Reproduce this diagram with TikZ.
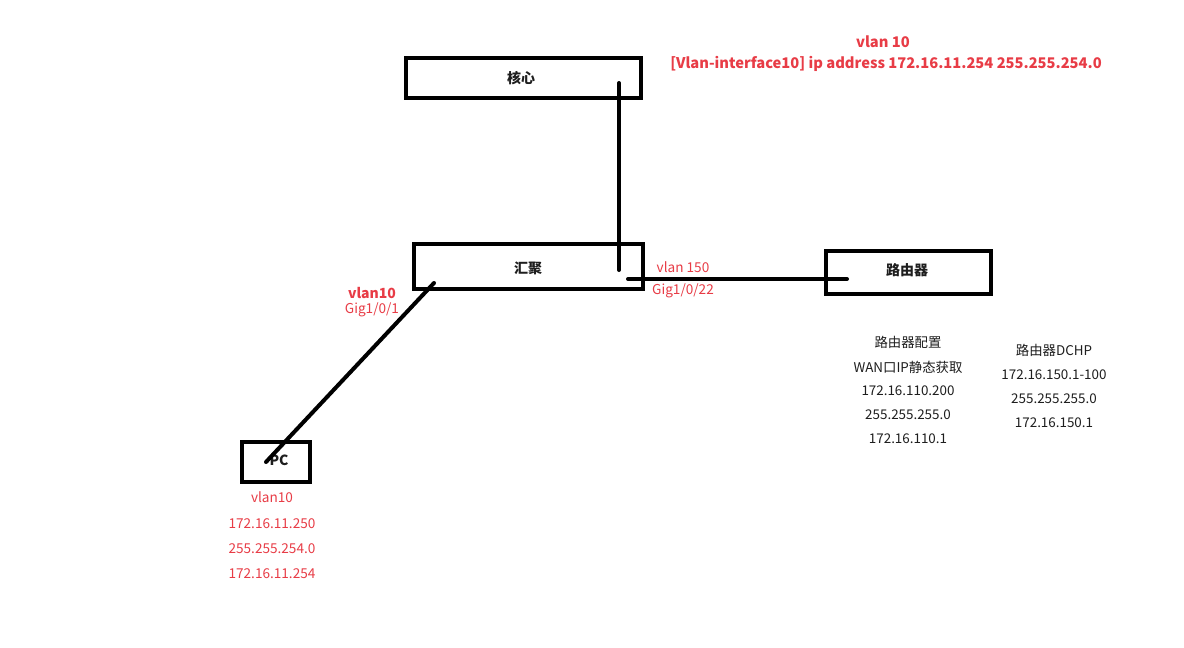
\documentclass[tikz,border=0pt]{standalone}
\usepackage{fontspec}
\setmainfont{Noto Sans CJK SC}
\definecolor{lblred}{RGB}{232,60,70}
\definecolor{txtgray}{RGB}{30,30,30}
\begin{document}
\begin{tikzpicture}[x=1pt,y=-1pt,
  dev/.style={draw=black,line width=4pt,inner sep=0pt},
  link/.style={draw=black,line width=4pt,line cap=round},
  redb/.style={text=lblred,font=\fontsize{14.7}{17}\selectfont\bfseries,inner sep=0pt},
  redn/.style={text=lblred,font=\fontsize{13.6}{15}\selectfont,inner sep=0pt},
  blk/.style={text=txtgray,font=\fontsize{13.4}{15}\selectfont,inner sep=0pt},
  devlbl/.style={text=txtgray,font=\fontsize{14}{16}\selectfont\bfseries,inner sep=0pt}]
\useasboundingbox[fill=white] (0,0) rectangle (1184,648);
% devices
\draw[dev] (406,58) rectangle (641,98);
\draw[dev] (414,244) rectangle (643,289);
\draw[dev] (826,251) rectangle (991,294);
\draw[dev] (242,442) rectangle (310,482);
\node[devlbl] (core) at (521,78) {核心};
\node[devlbl] (agg) at (528,268) {汇聚};
\node[devlbl] (router) at (907,270) {路由器};
\node[devlbl] (pc) at (279,460) {PC};
% connector endpoints
\coordinate (c1) at (619,83);
\coordinate (c2) at (619,270);
\coordinate (r1) at (628,279);
\coordinate (r2) at (847,279);
\coordinate (p1) at (434,283);
\coordinate (p2) at (266,462);
\draw[link] (c1) -- (c2);
\draw[link] (r1) -- (r2);
\draw[link] (p1) -- (p2);
% labels
\node[redb] (t1) at (883,42) {vlan 10};
\node[redb] (t2) at (886,64) {[Vlan-interface10] ip address 172.16.11.254 255.255.254.0};
\node[redn] (v150) at (683,267) {vlan 150};
\node[redn] (g22) at (683,291) {Gig1/0/22};
\node[redb,font=\fontsize{14}{16}\selectfont\bfseries] (v10) at (372,293) {vlan10};
\node[redn] (g1) at (372,310) {Gig1/0/1};
\node[redn] (pcv) at (272,497) {vlan10};
\node[redn] (pcip) at (272,524) {172.16.11.250};
\node[redn] (pcmask) at (272,549) {255.255.254.0};
\node[redn] (pcgw) at (272,574) {172.16.11.254};
\node[blk] (rc1) at (908,342) {路由器配置};
\node[blk] (rc2) at (908,367) {WAN口IP静态获取};
\node[blk] (rc3) at (908,391) {172.16.110.200};
\node[blk] (rc4) at (908,415) {255.255.255.0};
\node[blk] (rc5) at (908,439) {172.16.110.1};
\node[blk] (d1) at (1054,350) {路由器DCHP};
\node[blk] (d2) at (1054,375) {172.16.150.1-100};
\node[blk] (d3) at (1054,399) {255.255.255.0};
\node[blk] (d4) at (1054,423) {172.16.150.1};
\end{tikzpicture}
\end{document}
